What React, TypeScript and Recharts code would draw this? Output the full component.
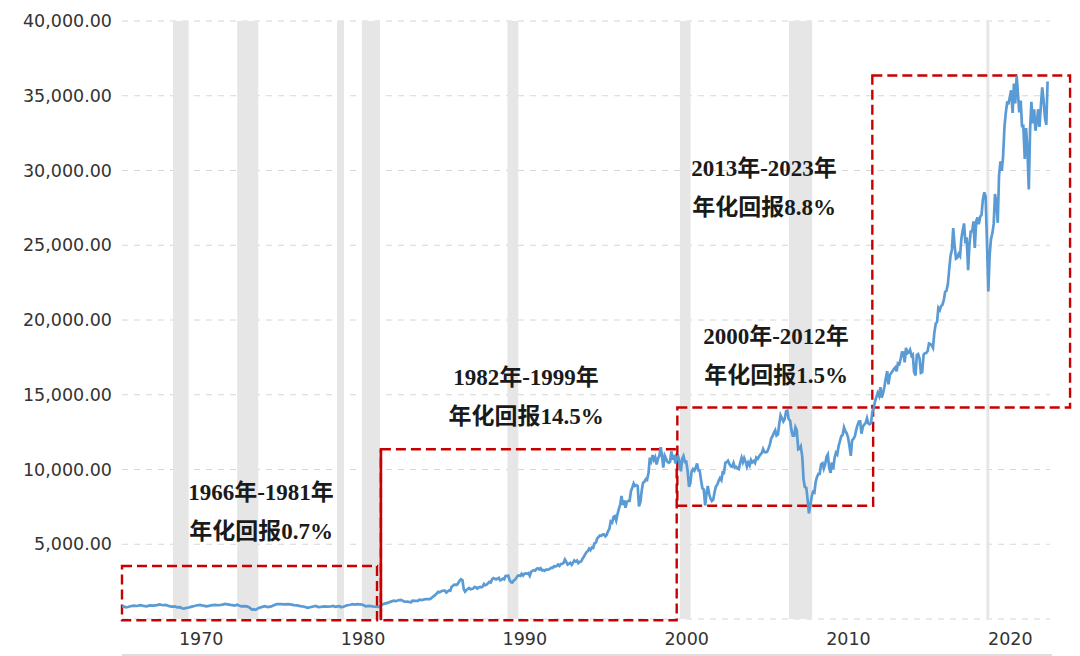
import React from 'react';
import { LineChart, Line, XAxis, YAxis, CartesianGrid, ReferenceArea, ReferenceLine } from 'recharts';

// [year (decimal), Dow close]
type Point = [number, number];

const dow1966to1982: Point[] = [
  [1966.48, 870], [1966.6, 830], [1966.7, 780], [1966.85, 800], [1967.0, 850], [1967.2, 890],
  [1967.4, 870], [1967.6, 920], [1967.8, 880], [1968.0, 850], [1968.2, 910], [1968.45, 890],
  [1968.65, 930], [1968.8, 980], [1969.0, 920], [1969.2, 940], [1969.4, 860], [1969.55, 830],
  [1969.75, 840], [1969.9, 780], [1970.05, 790], [1970.2, 720], [1970.3, 690], [1970.45, 740],
  [1970.6, 770], [1970.8, 830], [1970.95, 870], [1971.15, 920], [1971.3, 940], [1971.5, 890],
  [1971.7, 850], [1971.85, 880], [1972.0, 910], [1972.2, 940], [1972.45, 920], [1972.7, 960],
  [1972.85, 1010], [1973.0, 980], [1973.2, 940], [1973.45, 900], [1973.6, 950], [1973.75, 880],
  [1973.85, 850], [1974.0, 860], [1974.2, 840], [1974.35, 770], [1974.45, 680], [1974.52, 620],
  [1974.6, 660], [1974.7, 620], [1974.8, 650], [1974.9, 720], [1975.05, 780], [1975.3, 860],
  [1975.5, 800], [1975.7, 840], [1975.9, 940], [1976.05, 990], [1976.3, 990], [1976.5, 980],
  [1976.75, 1000], [1976.95, 960], [1977.1, 930], [1977.3, 910], [1977.5, 860], [1977.75, 820],
  [1977.95, 750], [1978.1, 790], [1978.3, 840], [1978.45, 880], [1978.6, 800], [1978.75, 810],
  [1979.0, 850], [1979.2, 830], [1979.4, 850], [1979.55, 870], [1979.65, 810], [1979.8, 840],
  [1979.93, 860], [1980.02, 780], [1980.2, 840], [1980.4, 920], [1980.6, 950], [1980.72, 990],
  [1980.85, 960], [1981.05, 990], [1981.3, 970], [1981.45, 900], [1981.55, 850], [1981.75, 880],
  [1981.95, 840], [1982.1, 820], [1982.3, 810], [1982.4, 840],
];

const dow1982to2000: Point[] = [
  [1982.48, 900], [1982.6, 990], [1982.77, 1046], [1982.9, 1075], [1983.02, 1130], [1983.27, 1221],
  [1983.4, 1199], [1983.52, 1233], [1983.68, 1276], [1983.77, 1258], [1983.93, 1155], [1984.1, 1170],
  [1984.27, 1132], [1984.35, 1115], [1984.43, 1224], [1984.6, 1207], [1984.77, 1211], [1984.85, 1286],
  [1985.02, 1266], [1985.18, 1316], [1985.27, 1335], [1985.43, 1334], [1985.52, 1328], [1985.68, 1472],
  [1985.77, 1546], [1985.93, 1709], [1986.02, 1818], [1986.1, 1784], [1986.27, 1892], [1986.43, 1898],
  [1986.52, 1767], [1986.68, 1914], [1986.77, 1896], [1986.85, 2158], [1986.93, 2224], [1987.02, 2305],
  [1987.18, 2292], [1987.27, 2419], [1987.35, 2572], [1987.43, 2663], [1987.52, 2596], [1987.6, 1994],
  [1987.68, 1834], [1987.77, 1939], [1987.93, 2072], [1988.02, 1989], [1988.18, 2031], [1988.27, 2142],
  [1988.35, 2129], [1988.43, 2032], [1988.52, 2113], [1988.6, 2149], [1988.68, 2115], [1988.77, 2169],
  [1988.85, 2342], [1988.93, 2259], [1989.02, 2294], [1989.18, 2480], [1989.27, 2440], [1989.35, 2661],
  [1989.43, 2737], [1989.52, 2693], [1989.6, 2645], [1989.68, 2706], [1989.77, 2753], [1989.85, 2591],
  [1989.93, 2627], [1990.02, 2707], [1990.1, 2657], [1990.18, 2877], [1990.27, 2881], [1990.35, 2905],
  [1990.43, 2614], [1990.52, 2453], [1990.6, 2442], [1990.68, 2560], [1990.77, 2634], [1990.85, 2737],
  [1990.93, 2882], [1991.02, 2914], [1991.1, 2888], [1991.18, 3028], [1991.27, 2907], [1991.35, 3025],
  [1991.43, 3044], [1991.52, 3017], [1991.6, 3070], [1991.68, 2895], [1991.77, 3169], [1991.85, 3224],
  [1991.93, 3268], [1992.02, 3236], [1992.1, 3359], [1992.18, 3397], [1992.27, 3319], [1992.35, 3394],
  [1992.43, 3257], [1992.52, 3272], [1992.6, 3226], [1992.68, 3305], [1992.77, 3301], [1992.85, 3310],
  [1992.93, 3371], [1993.02, 3435], [1993.1, 3428], [1993.18, 3527], [1993.27, 3516], [1993.35, 3540],
  [1993.43, 3651], [1993.52, 3555], [1993.6, 3681], [1993.68, 3684], [1993.77, 3754], [1993.85, 3978],
  [1993.93, 3832], [1994.02, 3636], [1994.1, 3682], [1994.18, 3758], [1994.27, 3625], [1994.35, 3765],
  [1994.43, 3913], [1994.52, 3843], [1994.6, 3908], [1994.68, 3739], [1994.77, 3834], [1994.85, 3844],
  [1994.93, 4011], [1995.02, 4158], [1995.1, 4321], [1995.18, 4465], [1995.27, 4556], [1995.35, 4708],
  [1995.43, 4611], [1995.52, 4789], [1995.6, 4756], [1995.68, 5075], [1995.77, 5117], [1995.85, 5395],
  [1995.93, 5486], [1996.02, 5588], [1996.1, 5569], [1996.18, 5643], [1996.27, 5655], [1996.35, 5529],
  [1996.43, 5616], [1996.52, 5882], [1996.6, 6029], [1996.68, 6522], [1996.77, 6448], [1996.85, 6813],
  [1996.93, 6877], [1997.02, 6584], [1997.1, 7009], [1997.18, 7331], [1997.27, 7673], [1997.35, 8223],
  [1997.43, 7622], [1997.52, 7945], [1997.6, 7442], [1997.68, 7823], [1997.77, 7908], [1997.85, 7907],
  [1997.93, 8546], [1998.02, 8800], [1998.1, 9063], [1998.18, 8900], [1998.27, 8952], [1998.35, 8883],
  [1998.43, 7539], [1998.52, 7843], [1998.6, 8592], [1998.68, 9117], [1998.77, 9181], [1998.85, 9359],
  [1998.93, 9307], [1999.02, 9786], [1999.1, 10789], [1999.18, 10560], [1999.27, 10971], [1999.35, 10655],
  [1999.43, 10829], [1999.52, 10337], [1999.6, 10729], [1999.68, 10878], [1999.77, 11497], [1999.85, 10941],
  [1999.93, 10128], [2000.02, 10922], [2000.1, 10734], [2000.18, 10522], [2000.27, 10448], [2000.35, 10522],
  [2000.43, 11215], [2000.52, 10651], [2000.6, 10971], [2000.68, 10415], [2000.77, 10787],
];

const dow2000to2012: Point[] = [
  [2000.85, 10887], [2000.93, 10495], [2001.02, 9879], [2001.1, 10735], [2001.18, 10912], [2001.27, 10502],
  [2001.35, 10523], [2001.43, 9950], [2001.52, 8848], [2001.6, 9075], [2001.68, 9852], [2001.77, 10022],
  [2001.85, 9920], [2001.93, 10106], [2002.02, 10404], [2002.1, 9946], [2002.18, 9925], [2002.27, 9243],
  [2002.35, 8737], [2002.43, 8664], [2002.52, 7592], [2002.6, 8397], [2002.68, 8896], [2002.77, 8342],
  [2002.85, 8054], [2002.93, 7891], [2003.02, 7992], [2003.1, 8480], [2003.18, 8850], [2003.27, 8985],
  [2003.35, 9234], [2003.43, 9416], [2003.52, 9275], [2003.6, 9801], [2003.68, 9782], [2003.77, 10454],
  [2003.85, 10488], [2003.93, 10584], [2004.02, 10358], [2004.1, 10226], [2004.18, 10188], [2004.27, 10435],
  [2004.35, 10140], [2004.43, 10174], [2004.52, 10080], [2004.6, 10027], [2004.68, 10428], [2004.77, 10783],
  [2004.85, 10490], [2004.93, 10766], [2005.02, 10504], [2005.1, 10193], [2005.18, 10467], [2005.27, 10275],
  [2005.35, 10641], [2005.43, 10482], [2005.52, 10569], [2005.6, 10440], [2005.68, 10806], [2005.77, 10718],
  [2005.85, 10865], [2005.93, 10993], [2006.02, 11109], [2006.1, 11367], [2006.18, 11168], [2006.27, 11150],
  [2006.35, 11186], [2006.43, 11381], [2006.52, 11679], [2006.6, 12081], [2006.68, 12222], [2006.77, 12463],
  [2006.85, 12622], [2006.93, 12269], [2007.02, 12354], [2007.1, 13063], [2007.18, 13628], [2007.27, 13409],
  [2007.35, 13212], [2007.43, 13358], [2007.52, 13896], [2007.6, 13930], [2007.68, 13372], [2007.77, 13265],
  [2007.85, 12650], [2007.93, 12266], [2008.02, 12263], [2008.1, 12820], [2008.18, 12638], [2008.27, 11350],
  [2008.35, 11378], [2008.43, 11544], [2008.52, 10851], [2008.6, 9325], [2008.68, 8829], [2008.77, 8776],
  [2008.85, 8001], [2008.93, 7063], [2009.02, 7609], [2009.1, 8168], [2009.18, 8500], [2009.27, 8447],
  [2009.35, 9172], [2009.43, 9496], [2009.52, 9712], [2009.6, 9713], [2009.68, 10345], [2009.77, 10428],
  [2009.85, 10067], [2009.93, 10325], [2010.02, 10857], [2010.1, 11009], [2010.18, 10137], [2010.27, 9774],
  [2010.35, 10466], [2010.43, 10015], [2010.52, 10788], [2010.6, 11118], [2010.68, 11006], [2010.77, 11578],
  [2010.85, 11892], [2010.93, 12226], [2011.02, 12320], [2011.1, 12811], [2011.18, 12570], [2011.27, 12414],
  [2011.35, 12143], [2011.43, 11614], [2011.52, 10913], [2011.6, 11955], [2011.68, 12046], [2011.77, 12218],
  [2011.85, 12633], [2011.93, 12952], [2012.02, 13212], [2012.1, 13214], [2012.18, 12393], [2012.27, 12880],
  [2012.35, 13009], [2012.43, 13091], [2012.52, 13437], [2012.6, 13096], [2012.68, 13026], [2012.77, 13104],
];

const dow2013to2023: Point[] = [
  [2012.85, 13861], [2012.93, 14054], [2013.02, 14579], [2013.1, 14840], [2013.18, 15116], [2013.27, 14910],
  [2013.35, 15500], [2013.43, 14810], [2013.52, 15130], [2013.6, 15546], [2013.68, 16086], [2013.77, 16577],
  [2013.85, 15699], [2013.93, 16322], [2014.02, 16458], [2014.1, 16581], [2014.18, 16717], [2014.27, 16827],
  [2014.35, 16563], [2014.43, 17098], [2014.52, 17043], [2014.6, 17391], [2014.68, 17828], [2014.77, 17823],
  [2014.85, 17165], [2014.93, 18133], [2015.02, 17776], [2015.1, 17841], [2015.18, 18011], [2015.27, 17620],
  [2015.35, 17690], [2015.43, 16528], [2015.52, 16285], [2015.6, 17664], [2015.68, 17720], [2015.77, 17425],
  [2015.85, 16466], [2015.93, 16517], [2016.02, 17685], [2016.1, 17774], [2016.18, 17787], [2016.27, 17930],
  [2016.35, 18432], [2016.43, 18401], [2016.52, 18308], [2016.6, 18142], [2016.68, 19124], [2016.77, 19763],
  [2016.85, 19864], [2016.93, 20812], [2017.02, 20663], [2017.1, 20941], [2017.18, 21009], [2017.27, 21350],
  [2017.35, 21891], [2017.43, 21948], [2017.52, 22405], [2017.6, 23377], [2017.68, 24272], [2017.77, 24719],
  [2017.85, 26149], [2017.93, 25029], [2018.02, 24103], [2018.1, 24163], [2018.18, 24416], [2018.27, 24271],
  [2018.35, 25415], [2018.43, 25965], [2018.52, 26458], [2018.6, 25116], [2018.68, 25538], [2018.77, 23327],
  [2018.85, 24999], [2018.93, 25916], [2019.02, 25929], [2019.1, 26593], [2019.18, 24815], [2019.27, 26600],
  [2019.35, 26864], [2019.43, 26403], [2019.52, 26917], [2019.6, 27046], [2019.68, 28051], [2019.77, 28538],
  [2019.85, 28256], [2019.93, 25409], [2020.02, 21917], [2020.1, 24346], [2020.18, 25383], [2020.27, 25813],
  [2020.35, 26428], [2020.43, 28430], [2020.52, 27782], [2020.6, 26502], [2020.68, 29639], [2020.77, 30606],
  [2020.85, 29983], [2020.93, 30932], [2021.02, 32982], [2021.1, 33875], [2021.18, 34529], [2021.27, 34503],
  [2021.35, 34935], [2021.43, 35361], [2021.52, 33844], [2021.6, 35820], [2021.68, 34484], [2021.77, 36338],
  [2021.85, 35132], [2021.93, 33893], [2022.02, 34678], [2022.1, 32977], [2022.18, 32990], [2022.27, 30775],
  [2022.35, 32845], [2022.43, 31510], [2022.52, 28726], [2022.6, 32733], [2022.68, 34590], [2022.77, 33147],
  [2022.85, 34086], [2022.93, 32657], [2023.02, 33274], [2023.1, 34098], [2023.18, 32908], [2023.27, 34408],
  [2023.35, 35560], [2023.43, 34722], [2023.52, 33508], [2023.6, 33053], [2023.68, 35951],
];

// grey recession bands [start, end]
const recessions: Point[] = [
  [1969.63, 1970.6], [1973.6, 1974.9], [1979.77, 1980.2], [1981.3, 1982.42],
  [1990.3, 1990.97], [2000.96, 2001.62], [2007.7, 2009.13], [2019.9, 2020.08],
];

const yearTicks = [1970, 1980, 1990, 2000, 2010, 2020];
const valueTicks = [0, 5000, 10000, 15000, 20000, 25000, 30000, 35000, 40000];

// red dashed period boxes: [x1, x2, y1, y2]
const periodBoxes: [number, number, number, number][] = [
  [1966.48, 1982.24, -80, 3550],
  [1982.48, 2000.76, -80, 11350],
  [2000.8, 2012.9, 7580, 14150],
  [2012.85, 2025.07, 14150, 36350],
];

const periodLabels = ['1966年-1981年', '1982年-1999年', '2000年-2012年', '2013年-2023年'];
const returnLabels = ['年化回报0.7%', '年化回报14.5%', '年化回报1.5%', '年化回报8.8%'];

const chartData = [...dow1966to1982, ...dow1982to2000, ...dow2000to2012, ...dow2013to2023].map(
  ([t, close]) => ({ t, close })
);

const RED = '#c80000';
const TICK_FONT = "'DejaVu Sans', Verdana, sans-serif";

// where each annotation block sits (centre x, first-line baseline)
const labelSpots = [
  { x: 261, y: 500 },
  { x: 526, y: 385 },
  { x: 776, y: 344 },
  { x: 764, y: 176 },
];

const YearTick = (props: any) => {
  const { x, y, payload } = props;
  return (
    <text x={x} y={y} dy="0.71em" textAnchor="start" fill="#333" fontSize={17.5} fontFamily={TICK_FONT}>
      {payload.value}
    </text>
  );
};

const App: React.FC = () => {
  return (
    <div style={{ position: 'absolute', left: 0, top: 0, width: 1080, height: 656, background: '#fff' }}>
      <LineChart width={1080} height={656} data={chartData} margin={{ top: 21, right: 30, bottom: 0, left: 0 }}>
        {recessions.map(([a, b], i) => (
          <ReferenceArea key={`r${i}`} x1={a} x2={b} y1={0} y2={40000} fill="#e6e6e6" fillOpacity={1} stroke="none" ifOverflow="hidden" />
        ))}
        <CartesianGrid vertical={false} stroke="#d6d6d6" strokeDasharray="6 6" />
        <XAxis
          dataKey="t"
          type="number"
          domain={[1966.48, 2023.83]}
          allowDataOverflow
          ticks={yearTicks}
          tickLine={false}
          axisLine={false}
          tickSize={6}
          tickMargin={8}
          height={37}
          tick={<YearTick />}
        />
        <YAxis
          type="number"
          domain={[0, 40000]}
          ticks={valueTicks}
          width={122}
          tickLine={false}
          axisLine={false}
          tickSize={6}
          tickMargin={4}
          tick={{ fill: '#333', fontSize: 17.5, fontFamily: TICK_FONT }}
          tickFormatter={(v: number) => (v === 0 ? '' : v.toLocaleString('en-US', { minimumFractionDigits: 2 }))}
        />
        <Line
          type="linear"
          dataKey="close"
          stroke="#5b9bd5"
          strokeWidth={2.7}
          dot={false}
          isAnimationActive={false}
        />
        {periodBoxes.map(([x1, x2, y1, y2], i) => (
          <ReferenceArea
            key={`b${i}`}
            x1={x1}
            x2={x2}
            y1={y1}
            y2={y2}
            fill="none"
            stroke={RED}
            strokeWidth={2.4}
            strokeDasharray="10 5"
            ifOverflow="visible"
          />
        ))}
        <ReferenceLine
          segment={[{ x: periodBoxes[1][0], y: periodBoxes[1][2] }, { x: periodBoxes[1][0], y: periodBoxes[1][3] }]}
          stroke={RED}
          strokeWidth={2.6}
          ifOverflow="visible"
        />
      </LineChart>
      <svg width={1080} height={656} style={{ position: 'absolute', left: 0, top: 0, pointerEvents: 'none' }}>
        <line x1={122} x2={1052} y1={655} y2={655} stroke="#dedede" strokeWidth={2} />
        {labelSpots.map((p, i) => (
          <g key={i} fontFamily="'Liberation Serif', 'Noto Sans CJK SC', serif" fontWeight="bold" fontSize={23} fill="#1a1a1a" textAnchor="middle">
            <text x={p.x} y={p.y}>{periodLabels[i]}</text>
            <text x={p.x} y={p.y + 39}>{returnLabels[i]}</text>
          </g>
        ))}
      </svg>
    </div>
  );
};

export default App;
